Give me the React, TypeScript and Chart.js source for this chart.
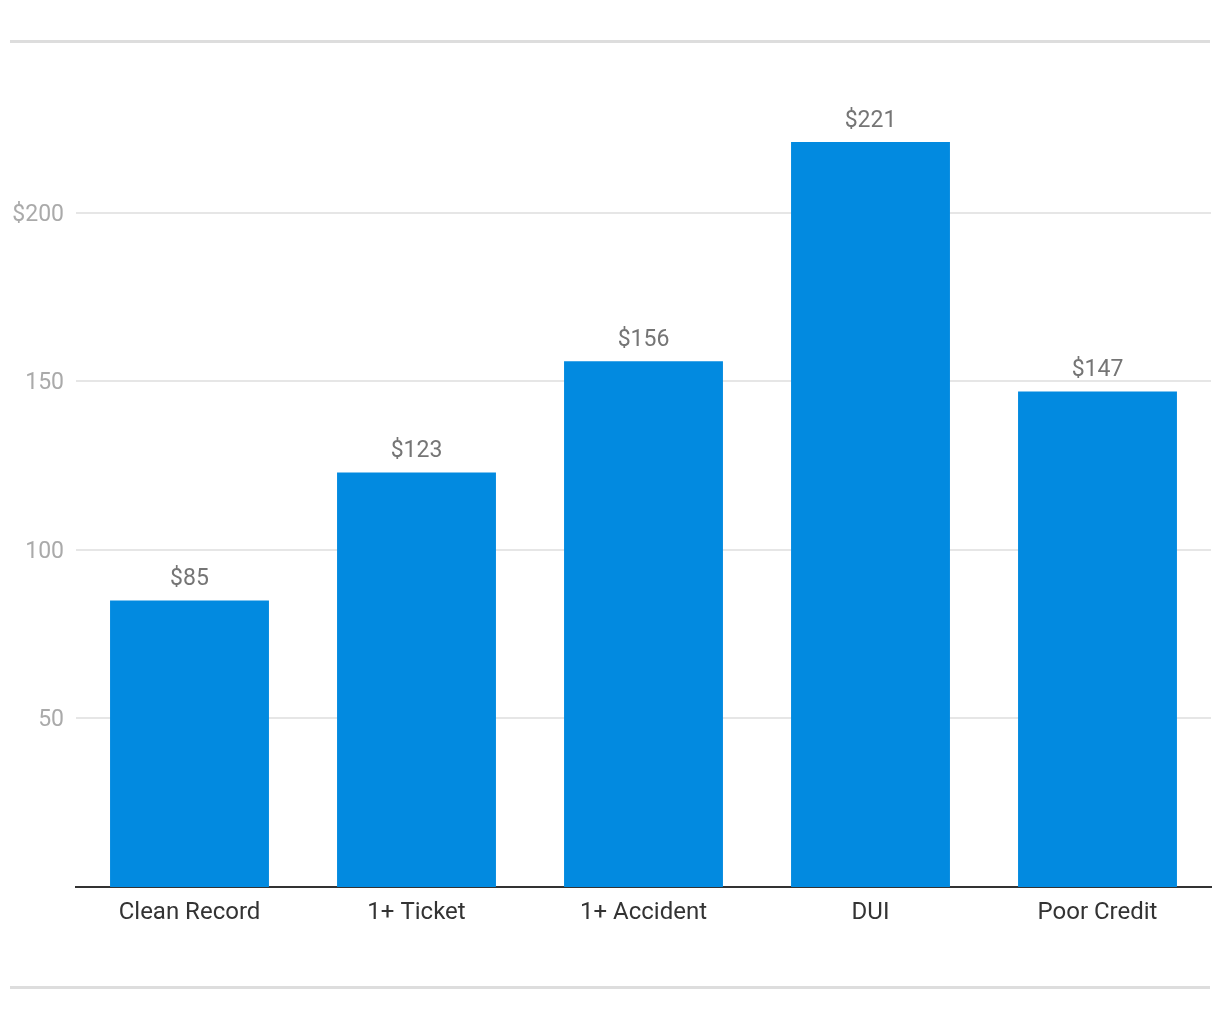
import React, { useEffect, useRef } from "react";
import { Chart, registerables } from "chart.js";

Chart.register(...registerables);

const categories = ["Clean Record", "1+ Ticket", "1+ Accident", "DUI", "Poor Credit"];
const premiums = [85, 123, 156, 221, 147];
const yTickValues = [50, 100, 150, 200];

const FONT = "Roboto, 'Noto Sans', sans-serif";

export default function App() {
  const ref = useRef<HTMLCanvasElement | null>(null);

  useEffect(() => {
    document.body.style.margin = "0";
    const canvas = ref.current;
    if (!canvas) return;

    const framePlugin = {
      id: "frameLines",
      beforeDraw(chart: any) {
        const ctx = chart.ctx;
        ctx.save();
        ctx.fillStyle = "#ffffff";
        ctx.fillRect(0, 0, chart.width, chart.height);
        ctx.strokeStyle = "#dddddd";
        ctx.lineWidth = 3;
        ctx.beginPath();
        ctx.moveTo(10, 41.5);
        ctx.lineTo(1210, 41.5);
        ctx.moveTo(10, 987.5);
        ctx.lineTo(1210, 987.5);
        ctx.stroke();
        ctx.restore();
      },
    };

    const valueLabels = {
      id: "valueLabels",
      afterDatasetsDraw(chart: any) {
        const ctx = chart.ctx;
        const meta = chart.getDatasetMeta(0);
        ctx.save();
        ctx.font = `23px ${FONT}`;
        ctx.fillStyle = "#757575";
        ctx.textAlign = "center";
        ctx.textBaseline = "alphabetic";
        meta.data.forEach((bar: any, i: number) => {
          ctx.fillText("$" + premiums[i], bar.x, bar.y - 15);
        });
        ctx.restore();
      },
    };

    const chart = new Chart(canvas, {
      type: "bar",
      data: {
        labels: categories,
        datasets: [
          {
            data: premiums,
            backgroundColor: "#028ae0",
            borderWidth: 0,
            categoryPercentage: 0.7,
            barPercentage: 1,
          },
        ],
      },
      options: {
        animation: false,
        responsive: false,
        devicePixelRatio: 1,
        layout: { padding: { top: 78, right: 9, left: 1, bottom: 0 } },
        plugins: { legend: { display: false }, tooltip: { enabled: false } },
        scales: {
          x: {
            grid: { display: false, drawTicks: false },
            border: { display: true, color: "#333333", width: 2 },
            ticks: {
              color: "#333333",
              font: { family: FONT, size: 24 },
              padding: 12,
            },
            afterFit(scale: any) {
              scale.height = 133;
            },
          },
          y: {
            min: 0,
            max: 240,
            grid: { color: "#e6e6e6", lineWidth: 2, drawTicks: false },
            border: { display: false },
            ticks: {
              stepSize: 50,
              color: "#aaaaaa",
              font: { family: FONT, size: 23 },
              padding: 12,
              labelOffset: 2,
              callback: (v: any) => (v === 200 ? "$200" : String(v)),
            },
            afterBuildTicks(scale: any) {
              scale.ticks = yTickValues.map((v) => ({ value: v }));
            },
            afterFit(scale: any) {
              scale.width = 75;
            },
          },
        },
      },
      plugins: [framePlugin, valueLabels],
    });

    return () => chart.destroy();
  }, []);

  return (
    <div style={{ position: "relative", width: 1220, height: 1020 }}>
      <canvas ref={ref} width={1220} height={1020} style={{ display: "block" }} />
    </div>
  );
}
